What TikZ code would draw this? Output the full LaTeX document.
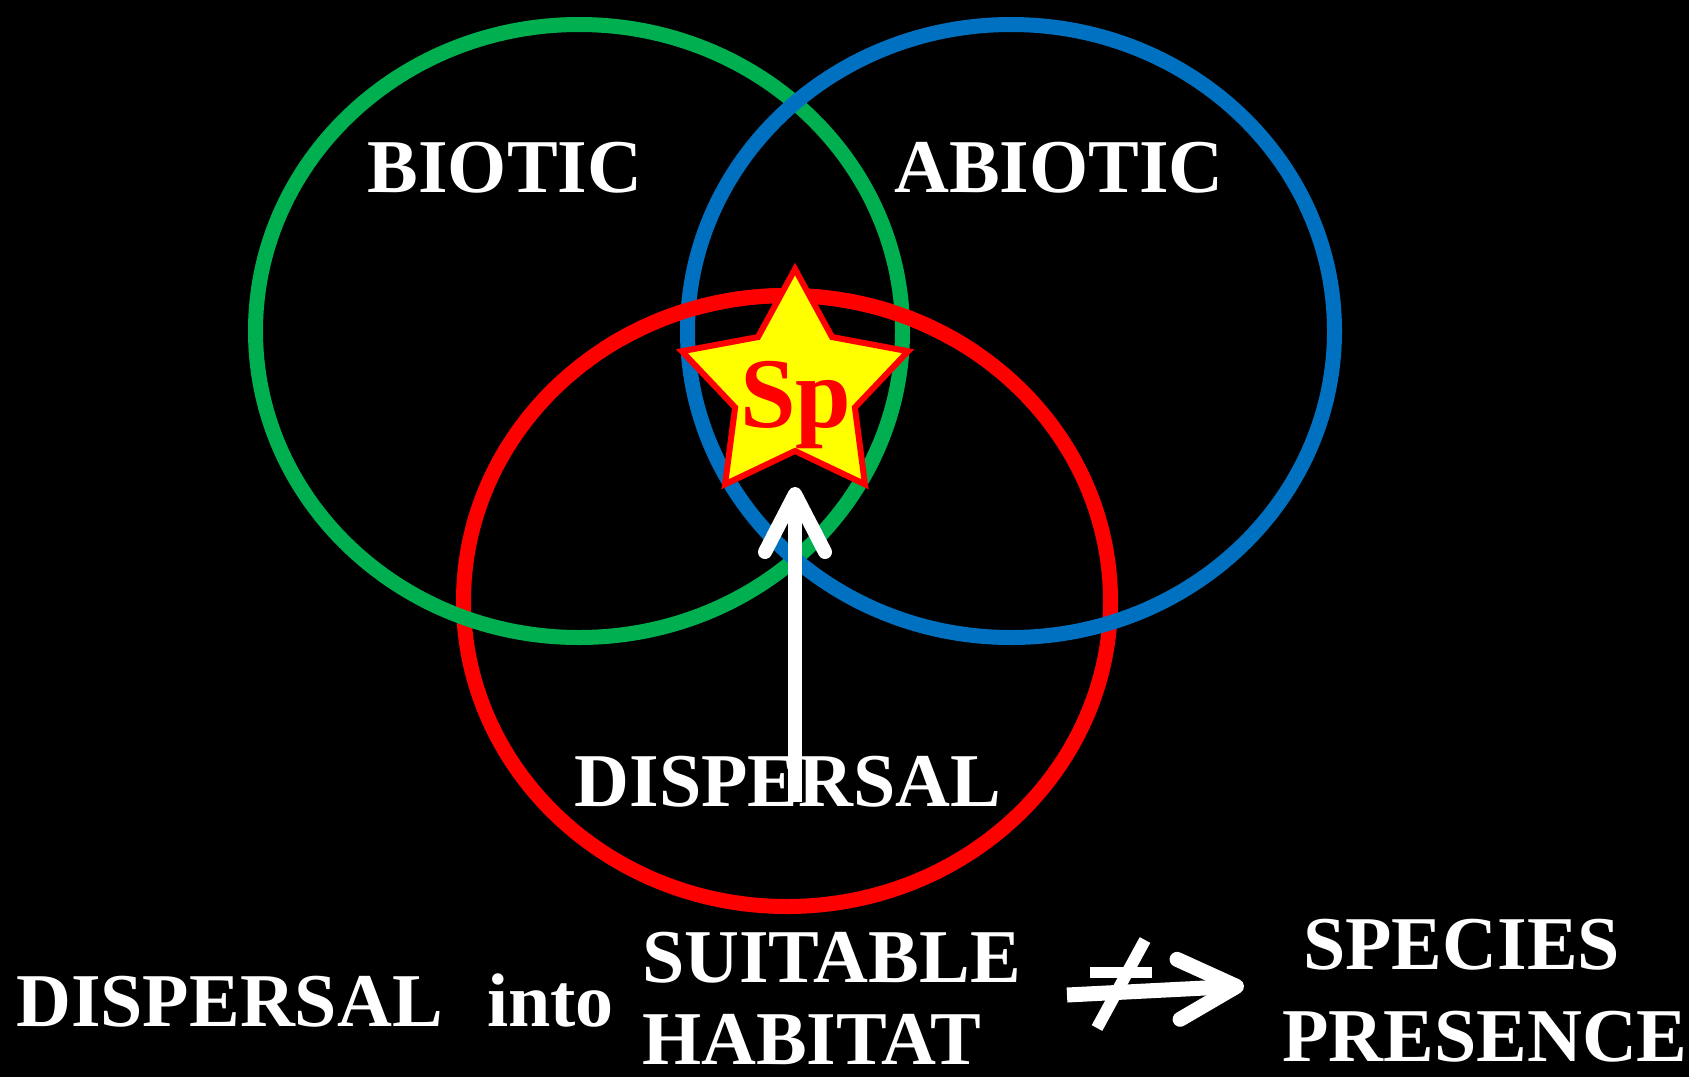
\documentclass[tikz,border=0pt]{standalone}
\usepackage{fontspec}
\setmainfont{Liberation Serif}
\usetikzlibrary{shapes.geometric, arrows.meta}
\definecolor{RingGreen}{HTML}{00B050}
\definecolor{RingBlue}{HTML}{0070C0}
\definecolor{RingRed}{HTML}{FF0000}
\definecolor{StarYellow}{HTML}{FFFF00}
\tikzset{
  ring/.style={draw=#1, line width=15pt},
  setlabel/.style={white, inner sep=0pt, anchor=base,
                font=\fontsize{76}{80}\selectfont\bfseries},
  rowlabel/.style={setlabel, anchor=base west},
  spstar/.style={star, star points=5, star point ratio=1.89,
                minimum size=238pt, inner sep=0pt,
                fill=StarYellow, draw=RingRed, line width=6pt},
  barbarrow/.style={white, line width=14pt,
                -{Straight Barb[length=58pt, width=60pt, round]}},
}

\begin{document}
\begin{tikzpicture}[x=1pt, y=-1pt]
    % Coordinate map (1 unit = 1 px of the 1689 x 1077 frame, y down):
    % green ring at (579, 331), blue ring at (1011, 331), red ring at (787, 601)
    % star (sp) at (795, 388)  — arrow from (795, 802) up to (795, 487)
    % bottom row on baselines 969 .. 1064

    \fill[black] (0,0) rectangle (1689,1077);
    \useasboundingbox (0,0) rectangle (1689,1077);

    \draw[ring=RingRed] (787,601) ellipse [x radius=323.5pt, y radius=305.5pt];
    \draw[ring=RingGreen] (579,331) ellipse [x radius=323.5pt, y radius=306.5pt];
    \draw[ring=RingBlue] (1011,331) ellipse [x radius=323.5pt, y radius=306.5pt];
    \begin{scope}
      \clip (600,250) rectangle (1000,345);
      \draw[ring=RingRed] (787,601) ellipse [x radius=323.5pt, y radius=305.5pt];
    \end{scope}

    \node[setlabel] (biotic) at (505,192) {BIOTIC};
    \node[setlabel] (abiotic) at (1059,192) {ABIOTIC};
    \node[setlabel] (dispersal) at (788,806) {DISPERSAL};

    \node[spstar] (sp) at (795,388) {};
    \node[RingRed, inner sep=0pt, anchor=base,
          font=\fontsize{100}{100}\selectfont\bfseries] (sptext) at (796,427) {Sp};

    \coordinate (arrbase) at (795,802);
    \coordinate (arrtip) at (795,487);
    \draw[barbarrow] (arrbase) -- (arrtip);

    \node[rowlabel] (dispinto) at (16,1026) {DISPERSAL};
    \node[rowlabel] (into) at (487,1026) {into};
    \node[rowlabel] (suitable) at (642,982) {SUITABLE};
    \node[rowlabel] (habitat) at (642,1064) {HABITAT};
    \node[rowlabel] (species) at (1303,969) {SPECIES};
    \node[rowlabel] (presence) at (1282,1061) {PRESENCE};

    \coordinate (notstart) at (1067,995);
    \coordinate (nottip) at (1244,986);
    \draw[barbarrow, line width=15pt] (notstart) -- (nottip);
    \draw[white, line width=11pt] (1090,972) -- (1152,972);
    \draw[white, line width=12pt] (1145,940) -- (1097,1028);
\end{tikzpicture}
\end{document}
